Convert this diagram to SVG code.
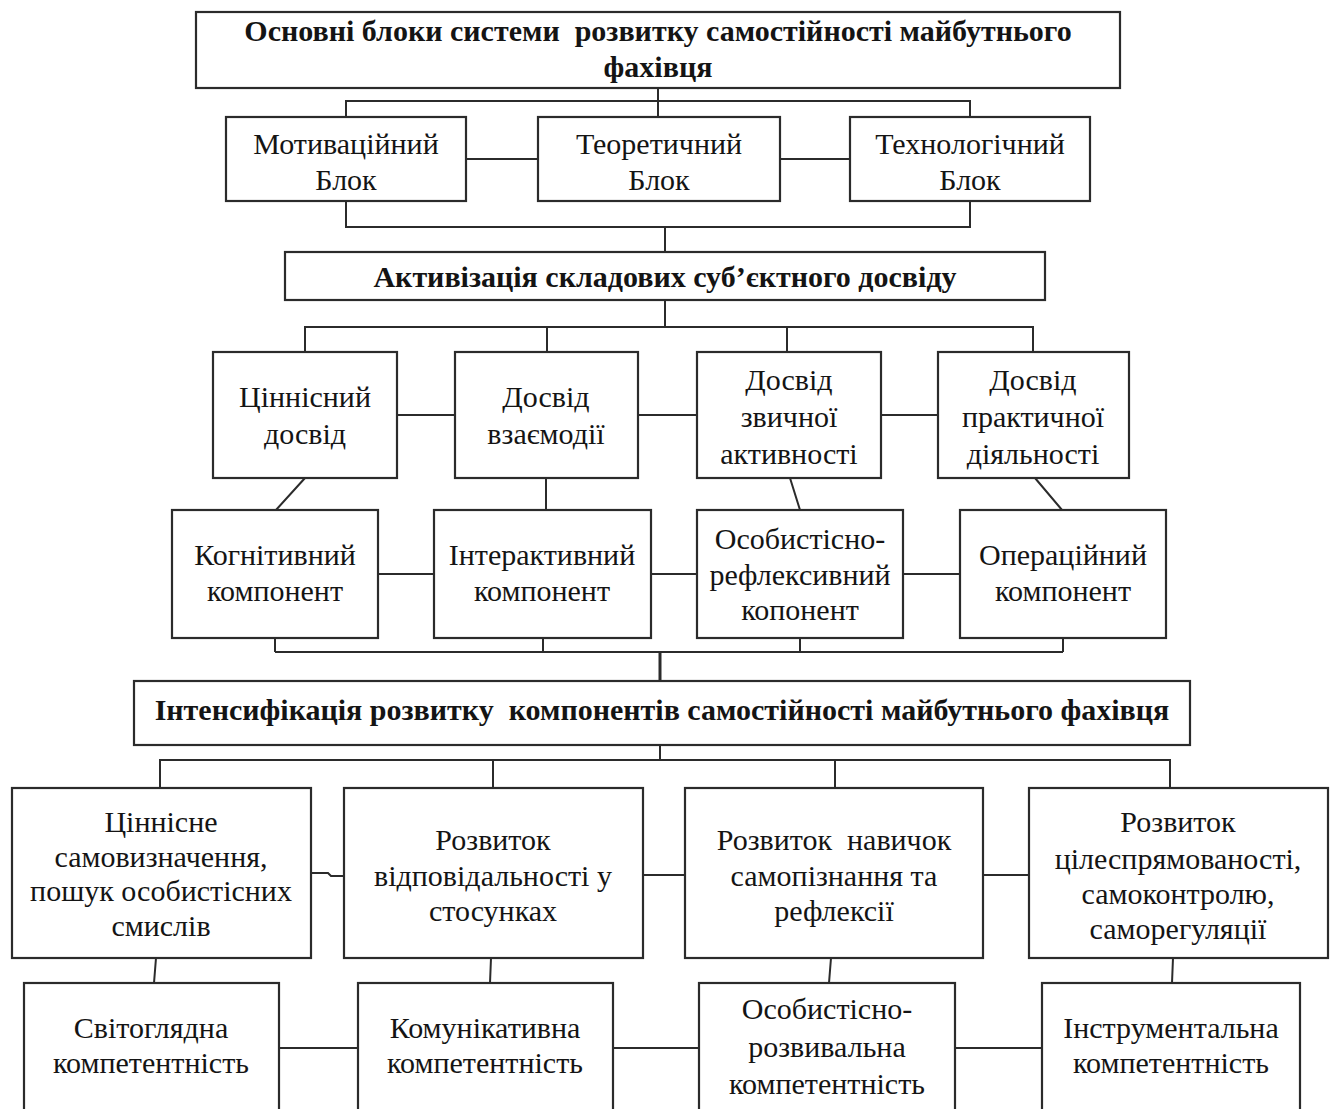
<svg xmlns="http://www.w3.org/2000/svg" width="1332" height="1109" viewBox="0 0 1332 1109">
<style>
.b{fill:#fff;stroke:#2b2b2b;stroke-width:2.2}
.c{fill:none;stroke:#2b2b2b;stroke-width:2}
.t{font-family:"Liberation Serif","Times New Roman",serif;font-size:30px;fill:#141414;text-anchor:middle;white-space:pre}
.h{font-weight:bold}
</style>
<rect width="1332" height="1109" fill="#fff"/>
<g id="connectors" class="c">
<path d="M658,88 V117 M346,117 V101 H970 V117"/>
<path d="M466,159 H538 M780,159 H850"/>
<path d="M346,201 V227 H970 V201 M665,227 V252"/>
<path d="M665,300 V327 M305,352 V327 H1033 V352 M547,327 V352 M787,327 V352"/>
<path d="M397,415 H455 M638,415 H697 M881,415 H938"/>
<path d="M305,478 L276,510 M546,478 V510 M790,478 L800,510 M1035,478 L1062,510"/>
<path d="M378,574 H434 M651,574 H697 M903,574 H960"/>
<path d="M275,638 V652 M543,638 V652 M800,638 V652 M1063,638 V652 M275,652 H1063"/>
<path d="M660,652 V681" style="stroke-width:3"/>
<path d="M660,745 V760 M160,788 V760 H1170 V788 M493,760 V788 M835,760 V788"/>
<path d="M311,873 H328 L331,876 H344 M643,875 H685 M983,875 H1029"/>
<path d="M156,958 L154,983 M491,958 L490,983 M831,958 L829,983 M1173,958 L1172,983"/>
<path d="M279,1048 H358 M613,1048 H699 M955,1048 H1042"/>
</g>
<g id="n-top"><rect class="b" x="196" y="12" width="924" height="76"/>
<text class="t h" x="658" y="41" xml:space="preserve">Основні блоки системи  розвитку самостійності майбутнього</text>
<text class="t h" x="658" y="77">фахівця</text></g>
<g id="n-motiv"><rect class="b" x="226" y="117" width="240" height="84"/>
<text class="t" x="346" y="154">Мотиваційний</text><text class="t" x="346" y="190">Блок</text></g>
<g id="n-teor"><rect class="b" x="538" y="117" width="242" height="84"/>
<text class="t" x="659" y="154">Теоретичний</text><text class="t" x="659" y="190">Блок</text></g>
<g id="n-tekh"><rect class="b" x="850" y="117" width="240" height="84"/>
<text class="t" x="970" y="154">Технологічний</text><text class="t" x="970" y="190">Блок</text></g>
<g id="n-aktyv"><rect class="b" x="285" y="252" width="760" height="48"/>
<text class="t h" x="665" y="287">Активізація складових суб’єктного досвіду</text></g>
<g id="n-tsinn"><rect class="b" x="213" y="352" width="184" height="126"/>
<text class="t" x="305" y="407">Ціннісний</text><text class="t" x="305" y="444">досвід</text></g>
<g id="n-vzaiem"><rect class="b" x="455" y="352" width="183" height="126"/>
<text class="t" x="546" y="407">Досвід</text><text class="t" x="546" y="444">взаємодії</text></g>
<g id="n-zvych"><rect class="b" x="697" y="352" width="184" height="126"/>
<text class="t" x="789" y="390">Досвід</text><text class="t" x="789" y="427">звичної</text><text class="t" x="789" y="464">активності</text></g>
<g id="n-prakt"><rect class="b" x="938" y="352" width="191" height="126"/>
<text class="t" x="1033" y="390">Досвід</text><text class="t" x="1033" y="427">практичної</text><text class="t" x="1033" y="464">діяльності</text></g>
<g id="n-kogn"><rect class="b" x="172" y="510" width="206" height="128"/>
<text class="t" x="275" y="565">Когнітивний</text><text class="t" x="275" y="601">компонент</text></g>
<g id="n-inter"><rect class="b" x="434" y="510" width="217" height="128"/>
<text class="t" x="542" y="565">Інтерактивний</text><text class="t" x="542" y="601">компонент</text></g>
<g id="n-refl"><rect class="b" x="697" y="510" width="206" height="128"/>
<text class="t" x="800" y="549">Особистісно-</text><text class="t" x="800" y="585">рефлексивний</text><text class="t" x="800" y="620">копонент</text></g>
<g id="n-oper"><rect class="b" x="960" y="510" width="206" height="128"/>
<text class="t" x="1063" y="565">Операційний</text><text class="t" x="1063" y="601">компонент</text></g>
<g id="n-intens"><rect class="b" x="134" y="681" width="1056" height="64"/>
<text class="t h" x="662" y="720" xml:space="preserve">Інтенсифікація розвитку  компонентів самостійності майбутнього фахівця</text></g>
<g id="n-samovyzn"><rect class="b" x="12" y="788" width="299" height="170"/>
<text class="t" x="161" y="832">Ціннісне</text><text class="t" x="161" y="867">самовизначення,</text><text class="t" x="161" y="901">пошук особистісних</text><text class="t" x="161" y="936">смислів</text></g>
<g id="n-vidpov"><rect class="b" x="344" y="788" width="299" height="170"/>
<text class="t" x="493" y="850">Розвиток</text><text class="t" x="493" y="886">відповідальності у</text><text class="t" x="493" y="921">стосунках</text></g>
<g id="n-navych"><rect class="b" x="685" y="788" width="298" height="170"/>
<text class="t" x="834" y="850" xml:space="preserve">Розвиток  навичок</text><text class="t" x="834" y="886">самопізнання та</text><text class="t" x="834" y="921">рефлексії</text></g>
<g id="n-tsilespr"><rect class="b" x="1029" y="788" width="299" height="170"/>
<text class="t" x="1178" y="832">Розвиток</text><text class="t" x="1178" y="869">цілеспрямованості,</text><text class="t" x="1178" y="904">самоконтролю,</text><text class="t" x="1178" y="939">саморегуляції</text></g>
<g id="n-svitogl"><rect class="b" x="24" y="983" width="255" height="140"/>
<text class="t" x="151" y="1038">Світоглядна</text><text class="t" x="151" y="1073">компетентність</text></g>
<g id="n-komun"><rect class="b" x="358" y="983" width="255" height="140"/>
<text class="t" x="485" y="1038">Комунікативна</text><text class="t" x="485" y="1073">компетентність</text></g>
<g id="n-rozv"><rect class="b" x="699" y="983" width="256" height="140"/>
<text class="t" x="827" y="1019">Особистісно-</text><text class="t" x="827" y="1057">розвивальна</text><text class="t" x="827" y="1094">компетентність</text></g>
<g id="n-instr"><rect class="b" x="1042" y="983" width="258" height="140"/>
<text class="t" x="1171" y="1038">Інструментальна</text><text class="t" x="1171" y="1073">компетентність</text></g>
</svg>
